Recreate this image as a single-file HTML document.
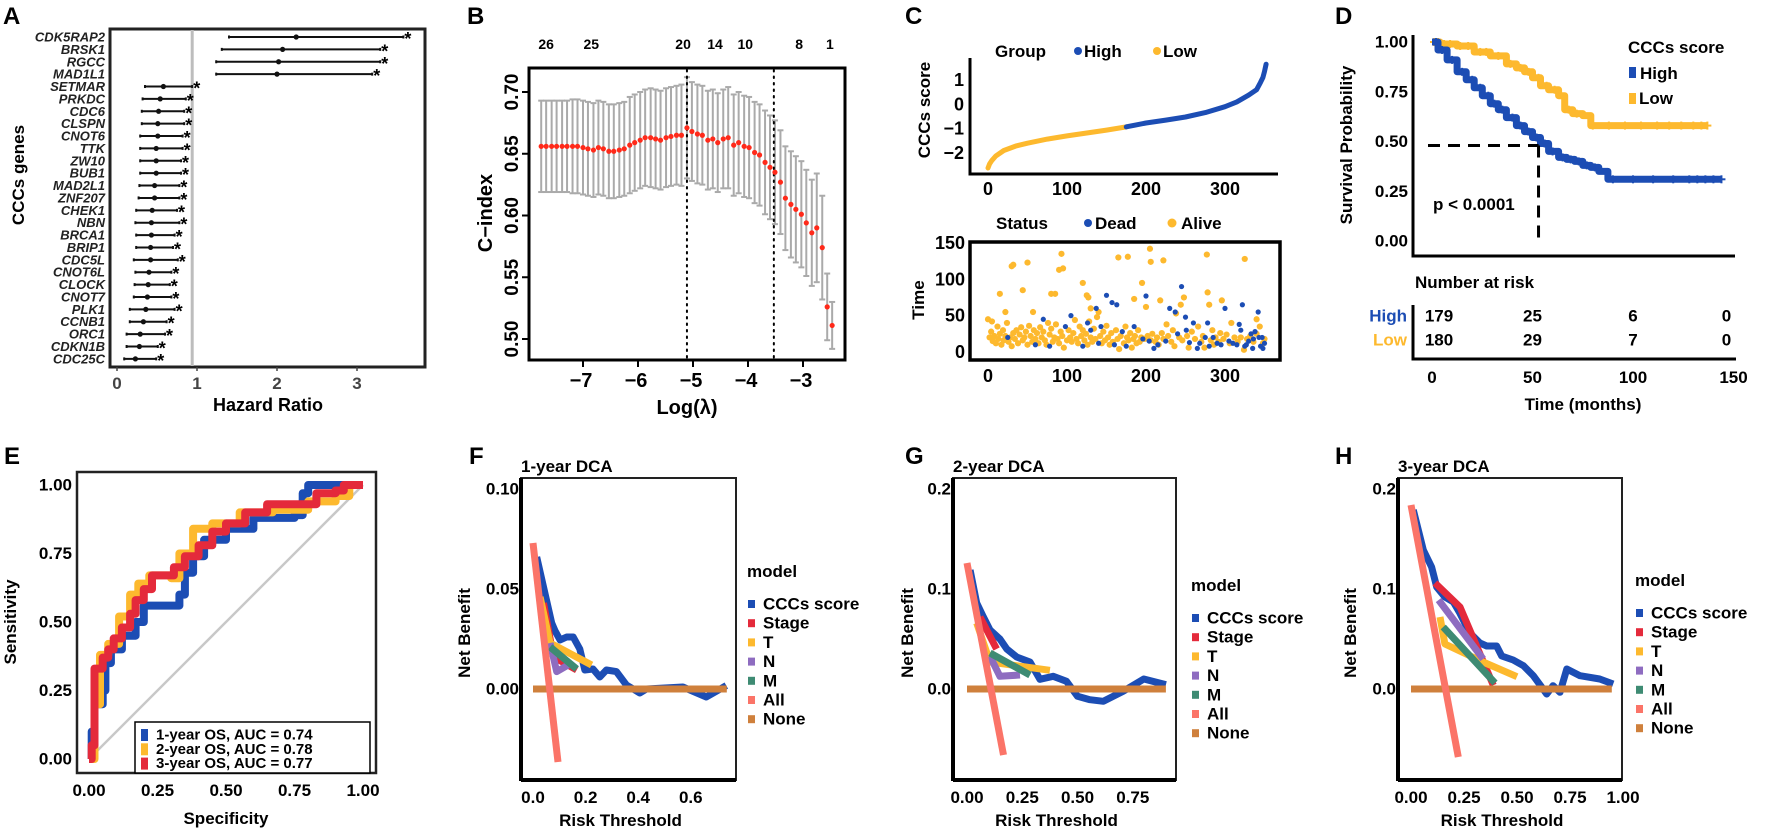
<!DOCTYPE html>
<html><head><meta charset="utf-8"><style>
html,body{margin:0;padding:0;background:#fff;}
svg{display:block;font-family:"Liberation Sans",Arial,sans-serif;font-weight:bold;}
</style></head><body>
<svg id="fig" width="1772" height="834" viewBox="0 0 1772 834" xmlns="http://www.w3.org/2000/svg"></svg>
<script>
// ---------- Panel A data ----------
const genesA = ["CDK5RAP2","BRSK1","RGCC","MAD1L1","SETMAR","PRKDC","CDC6","CLSPN","CNOT6","TTK","ZW10","BUB1","MAD2L1","ZNF207","CHEK1","NBN","BRCA1","BRIP1","CDC5L","CNOT6L","CLOCK","CNOT7","PLK1","CCNB1","ORC1","CDKN1B","CDC25C"];
const hrA = [2.24,2.07,2.02,2.00,0.58,0.54,0.52,0.51,0.51,0.49,0.49,0.49,0.47,0.47,0.44,0.43,0.43,0.42,0.42,0.40,0.39,0.38,0.36,0.33,0.29,0.28,0.23];
const loA = [1.40,1.31,1.24,1.24,0.35,0.32,0.31,0.31,0.29,0.29,0.29,0.29,0.28,0.27,0.24,0.23,0.24,0.24,0.21,0.23,0.22,0.21,0.16,0.16,0.12,0.12,0.09];
const hiA = [3.58,3.29,3.29,3.19,0.94,0.86,0.84,0.84,0.82,0.82,0.80,0.80,0.78,0.78,0.75,0.78,0.72,0.70,0.76,0.68,0.66,0.68,0.72,0.62,0.60,0.51,0.49];
const ticksA = [0,1,2,3];
// ---------- Panel B data ----------
const lambdaB = [-7.76,-7.67,-7.57,-7.48,-7.38,-7.29,-7.19,-7.10,-7.00,-6.91,-6.81,-6.72,-6.63,-6.53,-6.44,-6.34,-6.25,-6.15,-6.06,-5.96,-5.87,-5.77,-5.68,-5.59,-5.49,-5.40,-5.30,-5.21,-5.11,-5.02,-4.92,-4.83,-4.73,-4.64,-4.55,-4.45,-4.36,-4.26,-4.17,-4.07,-3.98,-3.88,-3.79,-3.69,-3.60,-3.51,-3.41,-3.32,-3.22,-3.13,-3.03,-2.94,-2.84,-2.75,-2.65,-2.56,-2.47];
const cindexB = [0.656,0.656,0.656,0.656,0.656,0.656,0.656,0.656,0.655,0.654,0.653,0.655,0.654,0.652,0.652,0.653,0.654,0.657,0.659,0.661,0.663,0.663,0.662,0.661,0.663,0.664,0.665,0.665,0.671,0.668,0.666,0.665,0.661,0.662,0.659,0.662,0.663,0.657,0.659,0.656,0.655,0.651,0.649,0.643,0.639,0.635,0.627,0.614,0.609,0.605,0.601,0.594,0.586,0.590,0.574,0.526,0.511];
const seB = [0.037,0.037,0.037,0.037,0.037,0.037,0.038,0.038,0.038,0.038,0.038,0.038,0.038,0.038,0.038,0.038,0.038,0.039,0.039,0.039,0.039,0.040,0.040,0.040,0.040,0.040,0.040,0.041,0.041,0.040,0.040,0.040,0.040,0.040,0.040,0.040,0.041,0.041,0.041,0.041,0.041,0.041,0.041,0.042,0.042,0.042,0.042,0.042,0.043,0.043,0.043,0.043,0.043,0.044,0.042,0.027,0.019];
const topNumB = ["26","25","20","14","10","8","1"];
const topPosB = [-7.67,-6.85,-5.18,-4.60,-4.05,-3.07,-2.51];
const vlinesB = [-5.11,-3.53];
const xTicksB = [-7,-6,-5,-4,-3];
const yTicksB = [0.50,0.55,0.60,0.65,0.70];
// ---------- Panel C data ----------
const scoreIdxC = [0,2,5,10,20,35,50,75,100,125,150,175,176,200,225,250,275,300,315,330,340,345,348,350,351,352];
const scoreValC = [-2.62,-2.45,-2.3,-2.12,-1.9,-1.72,-1.6,-1.43,-1.3,-1.18,-1.06,-0.93,-0.92,-0.77,-0.65,-0.52,-0.34,-0.1,0.1,0.38,0.6,0.9,1.1,1.35,1.5,1.65];
const groupSplitC = 176;
const deadC = [[25,20],[60,10],[70,45],[78,8],[98,35],[105,50],[120,8],[126,40],[130,30],[137,60],[140,12],[143,35],[150,78],[157,68],[160,10],[163,65],[170,28],[175,8],[185,35],[196,18],[200,77],[204,15],[210,5],[215,10],[225,15],[230,60],[237,55],[240,25],[245,90],[250,48],[255,13],[260,40],[268,12],[275,20],[278,40],[280,8],[290,12],[295,10],[300,60],[305,15],[310,12],[318,38],[320,30],[322,65],[325,8],[330,15],[333,25],[335,5],[338,28],[342,55],[343,20],[345,8],[348,5],[350,12],[347,20],[336,18],[327,10],[315,10],[285,20],[265,5],[251,30]];
const aliveC = [[0,45],[5,42],[15,80],[22,55],[30,118],[32,120],[44,85],[50,123],[57,55],[80,80],[85,80],[90,113],[93,135],[95,115],[120,95],[125,78],[127,75],[130,60],[140,55],[165,130],[177,131],[185,73],[195,95],[200,62],[205,142],[206,124],[218,71],[222,126],[238,53],[244,65],[248,75],[278,82],[277,134],[280,65],[296,71],[325,128],[340,45],
[2,20],[4,28],[6,15],[8,22],[10,12],[12,35],[13,18],[15,25],[17,10],[19,30],[20,16],[22,22],[24,40],[26,14],[28,20],[30,8],[32,26],[34,18],[36,30],[38,12],[40,24],[42,34],[44,16],[46,20],[48,28],[50,10],[52,36],[54,22],[56,14],[58,30],[60,18],[62,26],[64,12],[66,34],[68,20],[70,28],[72,16],[74,10],[76,40],[78,24],[80,32],[82,14],[84,20],[86,38],[88,18],[90,12],[92,28],[94,22],[96,6],[100,16],[102,30],[104,20],[106,14],[108,26],[110,44],[112,18],[114,12],[116,35],[118,22],[120,30],[122,16],[124,25],[126,10],[128,42],[130,20],[132,14],[134,32],[136,18],[138,48],[142,22],[144,12],[146,28],[148,16],[150,36],[152,20],[154,10],[156,26],[158,14],[162,30],[164,18],[166,4],[168,22],[172,12],[174,35],[176,20],[178,16],[180,26],[182,6],[184,18],[186,22],[188,12],[190,30],[192,14],[194,20],[198,18],[202,22],[206,16],[208,25],[212,14],[214,20],[216,10],[220,26],[222,18],[226,38],[228,22],[232,14],[234,30],[236,8],[242,20],[246,16],[252,22],[254,6],[258,28],[262,18],[266,35],[270,14],[272,22],[274,6],[282,16],[284,30],[286,10],[288,20],[292,14],[294,26],[298,18],[302,24],[306,12],[308,40],[312,20],[316,14],[320,20],[324,3],[328,18],[332,22],[336,14],[340,25],[344,35],[348,12],[350,18]];
const xTicksC = [0,100,200,300];
const yTicksCtop = [-2,-1,0,1];
const yTicksCbot = [0,50,100,150];
// ---------- Panel D data ----------
const highT = [0,3,7.5,12.5,17,21,25,29,33,37,42,46,50,54,58,63,67,71,75,79,83,87.5,92,96,144];
const highS = [1,0.96,0.91,0.85,0.81,0.77,0.73,0.69,0.66,0.62,0.58,0.55,0.52,0.49,0.45,0.42,0.41,0.40,0.38,0.37,0.35,0.31,0.31,0.31,0.31];
const lowT = [0,4,12.5,21,29,37,42,46,50,54,58,63,66,70,75,79,85,137];
const lowS = [1,0.99,0.98,0.95,0.93,0.89,0.87,0.85,0.82,0.78,0.76,0.73,0.66,0.64,0.63,0.58,0.58,0.58];
const highCens = [2,5,10,15,20,24,28,31,35,40,44,48,52,56,60,65,69,73,77,81,90,100,110,120,128,132,136,140,144];
const lowCens = [1,3,6,9,14,18,24,27,33,39,44,48,53,57,61,68,72,80,88,96,104,112,118,124,130,134,137];
const riskTimes = [0,50,100,150];
const riskHigh = [179,25,6,0];
const riskLow = [180,29,7,0];
const medianD = [53,0.48];
const xTicksD = [0,50,100,150];
const yTicksD = [0,0.25,0.5,0.75,1];
// ---------- Panel E data ----------
const roc1 = [[0,0],[0.01,0.1],[0.02,0.2],[0.05,0.25],[0.06,0.35],[0.08,0.40],[0.12,0.45],[0.17,0.5],[0.2,0.56],[0.3,0.56],[0.33,0.6],[0.35,0.68],[0.38,0.74],[0.42,0.8],[0.5,0.84],[0.6,0.88],[0.75,0.89],[0.78,0.97],[0.8,1.0],[1,1]];
const roc2 = [[0,0],[0.02,0.2],[0.04,0.38],[0.07,0.42],[0.11,0.52],[0.15,0.6],[0.18,0.64],[0.22,0.67],[0.3,0.66],[0.33,0.75],[0.38,0.84],[0.45,0.86],[0.55,0.9],[0.67,0.91],[0.8,0.94],[0.9,0.96],[0.95,1],[1,1]];
const roc3 = [[0,0],[0.01,0.05],[0.02,0.25],[0.02,0.33],[0.05,0.37],[0.07,0.40],[0.09,0.44],[0.12,0.48],[0.15,0.53],[0.17,0.58],[0.2,0.62],[0.23,0.67],[0.28,0.67],[0.31,0.70],[0.35,0.74],[0.4,0.78],[0.45,0.83],[0.5,0.86],[0.57,0.90],[0.65,0.93],[0.8,0.93],[0.83,0.97],[0.9,0.98],[0.93,1.0],[1,1]];
const aucLabels = ["1-year OS, AUC = 0.74","2-year OS, AUC = 0.78","3-year OS, AUC = 0.77"];
const ticksE = [0,0.25,0.5,0.75,1];
// ---------- DCA data ----------
const F_ccc = [[0.014,0.066],[0.052,0.044],[0.071,0.033],[0.084,0.029],[0.103,0.0245],[0.128,0.026],[0.153,0.026],[0.178,0.020],[0.197,0.0095],[0.228,0.010],[0.254,0.006],[0.279,0.0095],[0.317,0.0087],[0.355,0.002],[0.406,-0.002],[0.431,0.0],[0.57,0.001],[0.659,-0.004],[0.735,0.0017]];
const F_stage = [[0.04,0.043],[0.078,0.016],[0.166,0.0095]];
const F_T = [[0.027,0.046],[0.065,0.023],[0.223,0.012]];
const F_N = [[0.065,0.023],[0.09,0.0087],[0.134,0.012]];
const F_M = [[0.065,0.021],[0.166,0.010]];
const F_all = [[0.0,0.073],[0.095,-0.0365]];
const F_none = [[0.0,0],[0.737,0]];
const G_ccc = [[0.014,0.119],[0.044,0.086],[0.074,0.072],[0.104,0.059],[0.149,0.050],[0.18,0.040],[0.225,0.032],[0.285,0.027],[0.33,0.0097],[0.39,0.0127],[0.45,0.0077],[0.50,-0.0073],[0.556,-0.0107],[0.617,-0.0123],[0.707,-0.0023],[0.80,0.010],[0.90,0.0043]];
const G_stage = [[0.059,0.072],[0.134,0.040]];
const G_T = [[0.044,0.066],[0.104,0.027],[0.375,0.0187]];
const G_N = [[0.104,0.0327],[0.149,0.0127],[0.24,0.014]];
const G_M = [[0.104,0.036],[0.285,0.014]];
const G_all = [[0.0,0.126],[0.165,-0.066]];
const G_none = [[0.0,0],[0.90,0]];
const H_ccc = [[0.011,0.179],[0.058,0.139],[0.097,0.122],[0.121,0.102],[0.16,0.092],[0.2,0.087],[0.23,0.076],[0.278,0.056],[0.325,0.046],[0.357,0.043],[0.404,0.043],[0.428,0.033],[0.482,0.029],[0.53,0.0233],[0.577,0.0133],[0.64,-0.005],[0.67,0.0033],[0.703,-0.0033],[0.735,0.020],[0.797,0.0133],[0.89,0.010],[0.954,0.005]];
const H_stage = [[0.113,0.106],[0.231,0.082],[0.388,0.0037]];
const H_T = [[0.137,0.072],[0.16,0.045],[0.34,0.027],[0.50,0.0123]];
const H_N = [[0.13,0.089],[0.34,0.030]];
const H_M = [[0.152,0.062],[0.396,0.006]];
const H_all = [[0.0,0.184],[0.223,-0.068]];
const H_none = [[0.0,0],[0.947,0]];
const modelNames = ["CCCs score","Stage","T","N","M","All","None"];
const F_xticks = [0,0.2,0.4,0.6];
const F_yticks = [0,0.05,0.10];
const G_xticks = [0,0.25,0.5,0.75];
const G_yticks = [0,0.1,0.2];
const H_xticks = [0,0.25,0.5,0.75,1];
const H_yticks = [0,0.1,0.2];

const BLUE="#1C4DB4", YEL="#FDB92E", RED="#E42A3B", PUR="#8E6CC0", GRN="#3E8B73", SAL="#FB7468", BRN="#CF803C";
const modelColors=[BLUE,RED,YEL,PUR,GRN,SAL,BRN];
const NS="http://www.w3.org/2000/svg";
const svg=document.getElementById('fig');
function mk(tag,name,attrs,parent){
  const el=document.createElementNS(NS,tag);
  
  
  for(const k in attrs) el.setAttribute(k,attrs[k]);
  (parent||svg).appendChild(el);
  return el;
}
function txt(name,x,y,s,size,opts){
  opts=opts||{};
  const a={x:x,y:y,'font-size':size,'text-anchor':opts.anchor||'start','dominant-baseline':opts.base||'auto',fill:opts.fill||'#000'};
  if(opts.rot) a.transform='rotate('+opts.rot+' '+x+' '+y+')';
  if(opts.italic) a['font-style']='italic';
  const t=mk('text',name,a);
  t.textContent=s;
  return t;
}
function line(name,x1,y1,x2,y2,st,w,extra){
  const a={x1:x1,y1:y1,x2:x2,y2:y2,stroke:st,'stroke-width':w};
  if(extra) for(const k in extra) a[k]=extra[k];
  return mk('line',name,a);
}
function poly(name,pts,st,w,extra){
  const a={points:pts.map(p=>p[0].toFixed(1)+','+p[1].toFixed(1)).join(' '),fill:'none',stroke:st,'stroke-width':w,'stroke-linejoin':'round','stroke-linecap':'butt'};
  if(extra) for(const k in extra) a[k]=extra[k];
  return mk('polyline',name,a);
}
// panel letters
[["A",3,24],["B",467,24],["C",905,24],["D",1335,24],["E",4,464],["F",469,464],["G",905,464],["H",1335,464]].forEach(l=>txt('panel-label-'+l[0].toLowerCase(),l[1],l[2],l[0],24));

// ===== Panel A =====
(function(){
  const xA=v=>117+v*80, yA=i=>37+i*12.38;
  mk('rect','forest-plot-frame',{x:110,y:29,width:315,height:338,fill:'none',stroke:'#222','stroke-width':3});
  line('reference-line-hr1',xA(0.94),30,xA(0.94),366,'#bdbdbd',3);
  genesA.forEach((g,i)=>{
    const y=yA(i);
    line('ci-line-'+g,xA(loA[i]),y,xA(hiA[i]),y,'#111',2);
    line('ci-cap-low-'+g,xA(loA[i]),y-1.5,xA(loA[i]),y+1.5,'#111',2);
    line('ci-cap-high-'+g,xA(hiA[i]),y-1.5,xA(hiA[i]),y+1.5,'#111',2);
    mk('circle','hr-point-'+g,{cx:xA(hrA[i]),cy:y,r:2.6,fill:'#111'});
    txt('significance-star-'+g,xA(hiA[i])+1,y+8,'*',18);
    txt('gene-label-'+g,105,y,g,13,{anchor:'end',base:'central',italic:true,fill:'#222'});
  });
  ticksA.forEach(t=>{
    line('x-tick-a-'+t,xA(t),367,xA(t),371,'#444',1.5);
    txt('x-tick-label-a-'+t,xA(t),389,String(t),17,{anchor:'middle',fill:'#444'});
  });
  txt('x-axis-title-a',268,411,'Hazard Ratio',18,{anchor:'middle'});
  txt('y-axis-title-a',24,175,'CCCs genes',17,{anchor:'middle',rot:-90});
})();

// ===== Panel B =====
(function(){
  const xB=l=>583+(l+7)*55, yB=c=>92+(0.70-c)*1235;
  mk('rect','cv-plot-frame',{x:529,y:68,width:316,height:292,fill:'none',stroke:'#000','stroke-width':3});
  lambdaB.forEach((l,i)=>{
    const x=xB(l), u=yB(cindexB[i]+seB[i]), d=yB(cindexB[i]-seB[i]);
    line('error-bar-'+i,x,u,x,d,'#aaaaaa',2);
    line('error-cap-top-'+i,x-3,u,x+3,u,'#aaaaaa',2);
    line('error-cap-bottom-'+i,x-3,d,x+3,d,'#aaaaaa',2);
  });
  vlinesB.forEach((v,i)=>line('lambda-dotted-line-'+i,xB(v),70,xB(v),358,'#000',2,{'stroke-dasharray':'1.5 5','stroke-linecap':'round'}));
  lambdaB.forEach((l,i)=>mk('circle','cindex-point-'+i,{cx:xB(l),cy:yB(cindexB[i]),r:2.6,fill:'#ff2a1a'}));
  topNumB.forEach((n,i)=>txt('top-count-label-'+n,xB(topPosB[i]),49,n,14,{anchor:'middle'}));
  xTicksB.forEach(t=>{
    line('x-tick-b-'+t,xB(t),360,xB(t),367,'#000',2);
    txt('x-tick-label-b-'+t,xB(t)-2,387,'\u2212'+Math.abs(t),20,{anchor:'middle'});
  });
  yTicksB.forEach(t=>{
    line('y-tick-b-'+t,522,yB(t),529,yB(t),'#000',2);
    txt('y-tick-label-b-'+t,518,yB(t),t.toFixed(2),19,{anchor:'middle',rot:-90});
  });
  txt('y-axis-title-b',492,213,'C\u2212index',20,{anchor:'middle',rot:-90});
  txt('x-axis-title-b',687,414,'Log(\u03bb)',20,{anchor:'middle'});
})();

// ===== Panel C =====
(function(){
  const xC=v=>988+v*0.79, yT=v=>104.3-v*24.33, yS=v=>352-v*0.727;
  const yel=[],blu=[];
  scoreIdxC.forEach((ix,i)=>{const p=[xC(ix),yT(scoreValC[i])]; if(ix<groupSplitC) yel.push(p); else blu.push(p);});
  blu.unshift(yel[yel.length-1]);
  poly('risk-score-curve-low',yel,YEL,5,{'stroke-linecap':'round'});
  poly('risk-score-curve-high',blu,BLUE,5,{'stroke-linecap':'round'});
  line('y-axis-c-top',970,58,970,175.5,'#000',3);
  line('x-axis-c-top',968.5,174,1278,174,'#000',3);
  yTicksCtop.forEach(t=>txt('y-tick-label-c-top-'+t,964,yT(t),(t<0?'\u2212':'')+Math.abs(t),18,{anchor:'end',base:'central'}));
  xTicksC.forEach(t=>txt('x-tick-label-c-top-'+t,xC(t),195,String(t),18,{anchor:'middle'}));
  txt('y-axis-title-c-top',930,110,'CCCs score',17,{anchor:'middle',rot:-90});
  txt('legend-title-group',995,57,'Group',17);
  mk('circle','legend-dot-high',{cx:1078,cy:51,r:4,fill:BLUE});
  txt('legend-label-high',1084,57,'High',17);
  mk('circle','legend-dot-low',{cx:1157,cy:51,r:4,fill:YEL});
  txt('legend-label-low',1163,57,'Low',17);
  aliveC.forEach((p,i)=>mk('circle','alive-point-'+i,{cx:xC(p[0]),cy:yS(p[1]),r:3.1,fill:YEL}));
  deadC.forEach((p,i)=>mk('circle','dead-point-'+i,{cx:xC(p[0]),cy:yS(p[1]),r:2.6,fill:BLUE}));
  mk('rect','status-plot-frame',{x:970,y:242,width:310,height:118,fill:'none',stroke:'#000','stroke-width':3.5});
  yTicksCbot.forEach(t=>txt('y-tick-label-c-bottom-'+t,965,yS(t),String(t),18,{anchor:'end',base:'central'}));
  xTicksC.forEach(t=>txt('x-tick-label-c-bottom-'+t,xC(t),382,String(t),18,{anchor:'middle'}));
  txt('y-axis-title-c-bottom',924,300,'Time',17,{anchor:'middle',rot:-90});
  txt('legend-title-status',996,229,'Status',17);
  mk('circle','legend-dot-dead',{cx:1088,cy:223,r:4,fill:BLUE});
  txt('legend-label-dead',1095,229,'Dead',17);
  mk('circle','legend-dot-alive',{cx:1172,cy:223,r:4.5,fill:YEL});
  txt('legend-label-alive',1181,229,'Alive',17);
})();

// ===== Panel D =====
(function(){
  const xD=t=>1432+t*2.01, yD=s=>241-s*199;
  function step(T,S){const p=[[xD(T[0]),yD(S[0])]];for(let i=1;i<T.length;i++){p.push([xD(T[i]),yD(S[i-1])]);p.push([xD(T[i]),yD(S[i])]);}return p;}
  function sAt(T,S,t){let s=S[0];for(let i=0;i<T.length;i++){if(T[i]<=t)s=S[i];}return s;}
  poly('km-curve-low',step(lowT,lowS),YEL,7);
  lowCens.forEach((c,i)=>{const x=xD(c),y=yD(sAt(lowT,lowS,c));line('censor-low-h-'+i,x-4,y,x+4,y,YEL,2);line('censor-low-v-'+i,x,y-4,x,y+4,YEL,2);});
  poly('km-curve-high',step(highT,highS),BLUE,7);
  highCens.forEach((c,i)=>{const x=xD(c),y=yD(sAt(highT,highS,c));line('censor-high-h-'+i,x-4,y,x+4,y,BLUE,2);line('censor-high-v-'+i,x,y-4,x,y+4,BLUE,2);});
  line('median-line-h',1428,yD(medianD[1]),xD(medianD[0]),yD(medianD[1]),'#000',3,{'stroke-dasharray':'12 8'});
  line('median-line-v',xD(medianD[0]),yD(medianD[1]),xD(medianD[0]),245,'#000',3,{'stroke-dasharray':'12 8'});
  line('y-axis-d',1413,35,1413,257.5,'#000',3);
  line('x-axis-d',1411.5,256,1735,256,'#000',3);
  yTicksD.forEach(t=>txt('y-tick-label-d-'+t,1408,yD(t),t.toFixed(2),17,{anchor:'end',base:'central'}));
  txt('y-axis-title-d',1352,145,'Survival Probability',17,{anchor:'middle',rot:-90});
  txt('p-value-label',1433,210,'p < 0.0001',17);
  txt('legend-title-cccs-score',1628,53,'CCCs score',17);
  mk('rect','legend-key-high-d',{x:1629,y:67,width:7,height:11,fill:BLUE});
  txt('legend-label-high-d',1640,79,'High',17);
  mk('rect','legend-key-low-d',{x:1629,y:93,width:7,height:11,fill:YEL});
  txt('legend-label-low-d',1639,104,'Low',17);
  txt('risk-table-title',1415,288,'Number at risk',17);
  line('risk-table-y-axis',1413,305,1413,360.5,'#000',3);
  line('risk-table-x-axis',1411.5,359,1736,359,'#000',3);
  txt('risk-label-high',1407,316,'High',17,{anchor:'end',base:'central',fill:BLUE});
  txt('risk-label-low',1407,340,'Low',17,{anchor:'end',base:'central',fill:YEL});
  riskTimes.forEach((t,i)=>{
    const x=i===0?1439:xD(t)-7*(i===3?1:0);
    txt('risk-high-'+t,x,316,String(riskHigh[i]),17,{anchor:'middle',base:'central'});
    txt('risk-low-'+t,x,340,String(riskLow[i]),17,{anchor:'middle',base:'central'});
  });
  xTicksD.forEach(t=>txt('x-tick-label-d-'+t,xD(t),383,String(t),17,{anchor:'middle'}));
  txt('x-axis-title-d',1583,410,'Time (months)',17,{anchor:'middle'});
})();

// ===== Panel E =====
(function(){
  const xE=v=>89+v*274, yE=v=>759-v*274;
  mk('rect','roc-plot-frame',{x:77,y:472,width:299,height:301,fill:'none',stroke:'#222','stroke-width':2.5});
  line('roc-diagonal',xE(0),yE(0),xE(1),yE(1),'#c8c8c8',2.5);
  function stepPts(arr){const p=[];arr.forEach((q,i)=>{if(i>0)p.push([xE(q[0]),yE(arr[i-1][1])]);p.push([xE(q[0]),yE(q[1])]);});return p;}
  poly('roc-curve-1-year',stepPts(roc1),BLUE,8);
  poly('roc-curve-2-year',stepPts(roc2),YEL,8);
  poly('roc-curve-3-year',stepPts(roc3),RED,8);
  ticksE.forEach(t=>{
    txt('y-tick-label-e-'+t,72,yE(t),t.toFixed(2),17,{anchor:'end',base:'central'});
    txt('x-tick-label-e-'+t,xE(t),796,t.toFixed(2),17,{anchor:'middle'});
  });
  mk('rect','roc-legend-box',{x:135,y:722,width:235,height:51,fill:'#fff',stroke:'#000','stroke-width':1.5});
  [BLUE,YEL,RED].forEach((c,i)=>{
    const y=735+i*14.3;
    mk('rect','roc-legend-key-'+(i+1),{x:141,y:y-6,width:7,height:12,fill:c});
    txt('roc-legend-label-'+(i+1),156,y,aucLabels[i],15,{base:'central'});
  });
  txt('x-axis-title-e',226,824,'Specificity',17,{anchor:'middle'});
  txt('y-axis-title-e',16,622,'Sensitivity',17,{anchor:'middle',rot:-90});
})();

// ===== DCA panels =====
function drawDCA(p){
  const xs=v=>p.x0+v*p.kx, ys=v=>p.y0-v*p.ky;
  mk('rect',p.id+'-plot-frame',{x:p.bx,y:478,width:p.bw,height:302,fill:'none',stroke:'#222','stroke-width':2});
  line(p.id+'-y-axis',p.bx,478,p.bx,781,'#000',4);
  line(p.id+'-x-axis',p.bx,780,p.bx+p.bw,780,'#000',4);
  const series=[p.ccc,p.stage,p.T,p.N,p.M,p.none,p.all];
  const idx=[0,1,2,3,4,6,5];
  series.forEach((s,j)=>{
    const k=idx[j];
    poly(p.id+'-curve-'+modelNames[k].toLowerCase().replace(/ /g,'-'),s.map(q=>[xs(q[0]),ys(q[1])]),modelColors[k],7);
  });
  p.xt.forEach(t=>txt(p.id+'-x-tick-label-'+t,xs(t),803,p.xfmt(t),17,{anchor:'middle'}));
  p.yt.forEach(t=>txt(p.id+'-y-tick-label-'+t,p.bx-2,ys(t),p.yfmt(t),17,{anchor:'end',base:'central'}));
  txt(p.id+'-title',p.bx,472,p.title,17);
  txt(p.id+'-x-axis-title',p.bx+p.bw/2-8,826,'Risk Threshold',17,{anchor:'middle'});
  txt(p.id+'-y-axis-title',p.yx,633,'Net Benefit',17,{anchor:'middle',rot:-90});
  txt(p.id+'-legend-title',p.lx,p.ly,'model',17);
  modelNames.forEach((m,i)=>{
    const y=p.ly+27+i*19.2;
    mk('rect',p.id+'-legend-key-'+i,{x:p.lx+1,y:y-4,width:7,height:8,fill:modelColors[i]});
    txt(p.id+'-legend-label-'+i,p.lx+16,y,m,17,{base:'central'});
  });
}
drawDCA({id:'dca-1-year',title:'1-year DCA',bx:521,bw:215,x0:533,kx:263,y0:689,ky:2000,xt:F_xticks,yt:F_yticks,xfmt:t=>t.toFixed(1),yfmt:t=>t.toFixed(2),ccc:F_ccc,stage:F_stage,T:F_T,N:F_N,M:F_M,all:F_all,none:F_none,yx:470,lx:747,ly:577});
drawDCA({id:'dca-2-year',title:'2-year DCA',bx:953,bw:223,x0:967,kx:221,y0:689,ky:1000,xt:G_xticks,yt:G_yticks,xfmt:t=>t.toFixed(2),yfmt:t=>t.toFixed(1),ccc:G_ccc,stage:G_stage,T:G_T,N:G_N,M:G_M,all:G_all,none:G_none,yx:913,lx:1191,ly:591});
drawDCA({id:'dca-3-year',title:'3-year DCA',bx:1398,bw:224,x0:1411,kx:212,y0:689,ky:1000,xt:H_xticks,yt:H_yticks,xfmt:t=>t.toFixed(2),yfmt:t=>t.toFixed(1),ccc:H_ccc,stage:H_stage,T:H_T,N:H_N,M:H_M,all:H_all,none:H_none,yx:1356,lx:1635,ly:586});
</script>
</body></html>
